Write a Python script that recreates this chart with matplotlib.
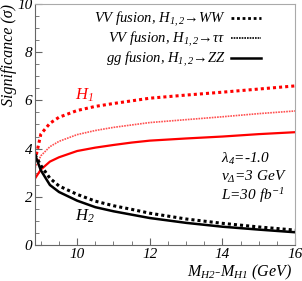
import numpy as np
import matplotlib
matplotlib.use("Agg")
import matplotlib.pyplot as plt

plt.rcParams['font.family'] = ['Liberation Serif', 'DejaVu Serif']
plt.rcParams['font.style'] = 'italic'
plt.rcParams['mathtext.fontset'] = 'custom'
plt.rcParams['mathtext.rm'] = 'Liberation Serif:italic'
plt.rcParams['mathtext.it'] = 'Liberation Serif:italic'
plt.rcParams['mathtext.bf'] = 'Liberation Serif:bold:italic'

# mass splitting M_H2 - M_H1 (GeV)
dm = [8.84, 9.0, 9.25, 9.5, 10.0, 10.5, 11.0, 11.5, 12.0, 13.0, 14.0, 15.0, 16.0]

# H1 significances
h1_ww = [3.5, 4.6, 5.05, 5.3, 5.58, 5.75, 5.87, 5.98, 6.09, 6.22, 6.34, 6.47, 6.6]
h1_tt = [3.2, 3.7, 4.08, 4.3, 4.58, 4.75, 4.88, 4.98, 5.08, 5.2, 5.32, 5.45, 5.56]
h1_zz = [2.76, 3.13, 3.46, 3.64, 3.9, 4.04, 4.15, 4.25, 4.33, 4.42, 4.5, 4.6, 4.68]

# H2 significances
h2_ww = [3.75, 3.3, 2.77, 2.45, 2.1, 1.82, 1.63, 1.48, 1.32, 1.08, 0.9, 0.75, 0.62]
h2_zz = [3.75, 3.1, 2.49, 2.2, 1.84, 1.57, 1.4, 1.26, 1.12, 0.92, 0.76, 0.64, 0.53]

leg_labels = ["VV fusion, $H_{1,2}$\u2192WW",
              "VV fusion, $H_{1,2}$\u2192\u03c4\u03c4",
              "gg fusion, $H_{1,2}$\u2192ZZ"]

fig = plt.figure(figsize=(3.02, 2.81), dpi=100)
ax = fig.add_axes([0.116, 0.128, 0.861, 0.858])

ax.plot(dm, h1_ww, color='red', lw=2.2, ls=(0, (1, 1)))
ax.plot(dm, h1_tt, color='#ff5050', lw=1.2, ls=(0, (1, 0.6)))
ax.plot(dm, h1_zz, color='red', lw=1.6)
ax.plot(dm, h2_ww, color='black', lw=2.2, ls=(0, (1, 1)))
ax.plot(dm, h2_zz, color='black', lw=1.8)

# legend (black samples only)
l1, = ax.plot([], [], color='black', lw=2.0, ls=(0, (1, 1)))
l2, = ax.plot([], [], color='black', lw=1.2, ls=(0, (1, 0.6)))
l3, = ax.plot([], [], color='black', lw=1.8)
ax.legend([l1, l2, l3], leg_labels, loc='upper right', frameon=False,
          markerfirst=False, fontsize=10.5, handlelength=2.0, labelspacing=0.05,
          handletextpad=0.4, borderaxespad=0.0, bbox_to_anchor=(0.89, 1.0))

ax.text(10.2, 6.22, "$H_1$", color='red', fontsize=12, ha='center', va='center')
ax.text(10.2, 1.2, "$H_2$", color='black', fontsize=12, ha='center', va='center')
ax.text(13.95, 2.78, "\u03bb$_4$=-1.0\nv$_\u0394$=3 GeV\nL=30 fb$^{-1}$",
        fontsize=11, ha='left', va='center', linespacing=1.15)

ax.set_xlim(8.84, 16)
ax.set_ylim(0, 10)
ax.set_xticks([10, 12, 14, 16])
ax.set_yticks([0, 2, 4, 6, 8, 10])
ax.set_xticks(np.arange(9, 16.01, 0.5), minor=True)
ax.set_yticks(np.arange(0, 10.01, 0.5), minor=True)
ax.tick_params(which='both', direction='in', color='#666666', labelsize=11, pad=2)
ax.tick_params(which='major', length=5)
ax.tick_params(which='minor', length=3)
for s in ['left', 'bottom']:
    ax.spines[s].set_color('#666666')
for s in ['top', 'right']:
    ax.spines[s].set_color('#aaaaaa')

ax.set_ylabel("Significance (\u03c3)", fontsize=11.5, loc='top')
ax.yaxis.set_label_coords(-0.07, 1.0)
ax.set_xlabel("M$_{H2}$-M$_{H1}$ (GeV)", fontsize=11.5, loc='right')
ax.xaxis.set_label_coords(0.99, -0.075)

fig.savefig("out.png", dpi=100)
